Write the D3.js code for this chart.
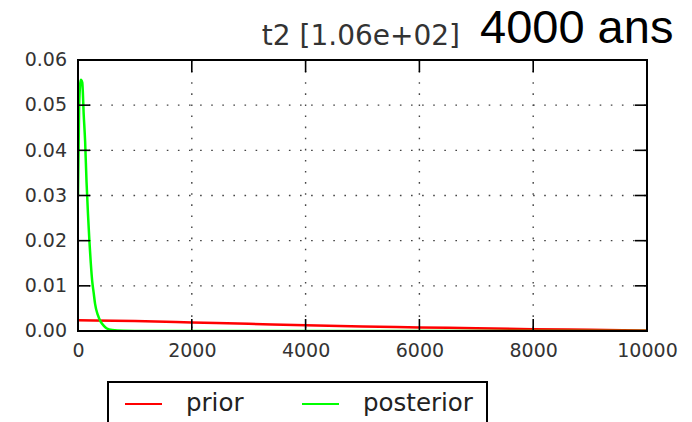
<!DOCTYPE html>
<html><head><meta charset="utf-8">
<script src="https://cdn.jsdelivr.net/npm/d3@7"></script>
<style>body{margin:0;background:#fff;} svg{display:block;}</style>
</head><body>
<svg id="chart" width="692" height="422"></svg>
<script>
// ---- data ----
const xTicks = [0, 2000, 4000, 6000, 8000, 10000];
const yTicks = [0.00, 0.01, 0.02, 0.03, 0.04, 0.05, 0.06];
const priorX = [0, 1000, 2000, 3000, 4000, 5000, 6000, 7000, 8000, 9000, 10000];
const priorY = [0.00236, 0.0022, 0.0019, 0.0016, 0.00127, 0.001, 0.0008, 0.0006, 0.0004, 0.00025, 0.00012];
const postX = [0, 20, 50, 75, 100, 125, 150, 175, 200, 225, 250, 275, 300, 350, 400, 450, 500, 600, 800, 1000, 2000, 4000, 6000, 8000, 10000];
const postY = [0.03, 0.05, 0.0556, 0.055, 0.048, 0.042, 0.033, 0.026, 0.02, 0.015, 0.011, 0.0085, 0.006, 0.0035, 0.002, 0.0012, 0.0006, 0.0002, 0.00003, 0, 0, 0, 0, 0, 0];
const titleText = "t2 [1.06e+02]";
const titleExtra = "4000 ans";
const legendLabels = ["prior", "posterior"];
const seriesColors = ["#ff0000", "#00ff00"];

// ---- layout ----
const svg = d3.select("#chart");
const L = 78, R = 647, T = 60, B = 331;
const x = d3.scaleLinear().domain([0, 10000]).range([L, R]);
const y = d3.scaleLinear().domain([0, 0.06]).range([B, T]);
const font = "DejaVu Sans, sans-serif";

svg.append("defs").append("clipPath").attr("id", "clip")
  .append("rect").attr("x", L).attr("y", T).attr("width", R - L).attr("height", B - T);

// grid
const grid = svg.append("g");
grid.selectAll(".gx").data(xTicks.slice(1, -1)).enter().append("line")
  .attr("x1", d => x(d)).attr("x2", d => x(d)).attr("y1", T).attr("y2", B)
  .attr("stroke", "#444").attr("stroke-width", 1.4).attr("stroke-dasharray", "1.6,9.5");
grid.selectAll(".gy").data(yTicks.slice(1, -1)).enter().append("line")
  .attr("x1", L).attr("x2", R).attr("y1", d => y(d)).attr("y2", d => y(d))
  .attr("stroke", "#444").attr("stroke-width", 1.4).attr("stroke-dasharray", "1.6,9.5");

// lines
const lineGen = (xs, ys) => d3.line().x((d, i) => x(xs[i])).y((d, i) => y(ys[i])).curve(d3.curveMonotoneX)(xs);
const lines = svg.append("g").attr("clip-path", "url(#clip)");
lines.append("path").attr("d", lineGen(priorX, priorY)).attr("fill", "none")
  .attr("stroke", seriesColors[0]).attr("stroke-width", 2.5);
lines.append("path").attr("d", lineGen(postX, postY)).attr("fill", "none")
  .attr("stroke", seriesColors[1]).attr("stroke-width", 2.5);

// axes (labels via d3 axes, inward ticks drawn on all sides)
const tl = 12;
const axB = svg.append("g").attr("transform", `translate(0,${B})`)
  .call(d3.axisBottom(x).tickValues(xTicks).tickSize(0).tickPadding(12).tickFormat(d3.format("d")));
const axL = svg.append("g").attr("transform", `translate(${L},0)`)
  .call(d3.axisLeft(y).tickValues(yTicks).tickSize(0).tickPadding(11).tickFormat(d3.format(".2f")));
[axB, axL].forEach(a => {
  a.select(".domain").remove();
  a.selectAll("text").attr("font-family", font).attr("font-size", 19).attr("fill", "#333");
});
axL.selectAll("text").attr("dy", "0.3em");
axB.selectAll("text").attr("dy", "0.74em");

const tk = svg.append("g").attr("stroke", "#000").attr("stroke-width", 1.6);
xTicks.forEach(d => {
  tk.append("line").attr("x1", x(d)).attr("x2", x(d)).attr("y1", B).attr("y2", B - tl);
  tk.append("line").attr("x1", x(d)).attr("x2", x(d)).attr("y1", T).attr("y2", T + tl);
});
yTicks.forEach(d => {
  tk.append("line").attr("x1", L).attr("x2", L + tl).attr("y1", y(d)).attr("y2", y(d));
  tk.append("line").attr("x1", R).attr("x2", R - tl).attr("y1", y(d)).attr("y2", y(d));
});

// frame
svg.append("rect").attr("x", L).attr("y", T).attr("width", R - L).attr("height", B - T)
  .attr("fill", "none").attr("stroke", "#000").attr("stroke-width", 2);

// title
svg.append("text").attr("x", 460).attr("y", 45).attr("text-anchor", "end")
  .attr("font-family", font).attr("font-size", 28).attr("fill", "#333").text(titleText);
svg.append("text").attr("x", 480).attr("y", 43)
  .attr("font-family", "Liberation Sans, Arial, sans-serif").attr("font-size", 47).attr("fill", "#000").text(titleExtra);

// legend
const lg = svg.append("g");
lg.append("rect").attr("x", 108).attr("y", 382).attr("width", 379).attr("height", 60)
  .attr("fill", "#fff").attr("stroke", "#000").attr("stroke-width", 2);
const legX = [125, 302];
const legTX = [186, 363];
legendLabels.forEach((lab, i) => {
  lg.append("line").attr("x1", legX[i]).attr("x2", legX[i] + 37).attr("y1", 404).attr("y2", 404)
    .attr("stroke", seriesColors[i]).attr("stroke-width", 2);
  lg.append("text").attr("x", legTX[i]).attr("y", 411).attr("font-family", font)
    .attr("font-size", 24.5).attr("fill", "#222").text(lab);
});
</script>
</body></html>
